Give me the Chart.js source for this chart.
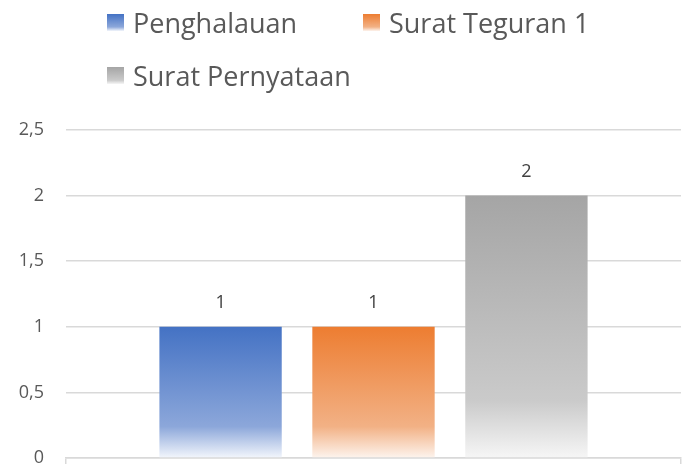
<!DOCTYPE html>
<html>
<head>
<meta charset="utf-8">
<script src="https://cdn.jsdelivr.net/npm/chart.js@4.4.1/dist/chart.umd.min.js"></script>
<style>
  html, body { margin: 0; padding: 0; background: #ffffff; }
  #wrap { position: relative; width: 683px; height: 468px; overflow: hidden; }
  #chartbox { position: absolute; left: 0; top: 0; width: 683px; height: 468px; }
  #legend {
    position: absolute; left: 107px; top: 0;
    display: grid; grid-template-columns: 256px auto; grid-auto-rows: 45px; row-gap: 8px;
    font-family: 'Open Sans', sans-serif; font-size: 27px; color: #595959;
  }
  .item { display: flex; align-items: center; white-space: nowrap; }
  .box { width: 17px; height: 17px; margin-right: 9px; flex: none; }
</style>
</head>
<body>
<div id="wrap">
  <div id="chartbox"><canvas id="chart"></canvas></div>
  <div id="legend"></div>
</div>
<script>
// ---- data ----
const categories = [''];
const seriesNames = ['Penghalauan', 'Surat Teguran 1', 'Surat Pernyataan'];
const penghalauan = [1];
const suratTeguran1 = [1];
const suratPernyataan = [2];
const yTickLabels = ['0', '0,5', '1', '1,5', '2', '2,5'];

// ---- styles ----
const gradientStops = [
  [[0, '#4472C4'], [0.76, '#8CA7DA'], [1, '#F3F6FC']],
  [[0, '#ED7D31'], [0.76, '#F2B185'], [1, '#FDF4EE']],
  [[0, '#A5A5A5'], [0.78, '#CACACA'], [1, '#F6F6F6']]
];

function barGradient(stops) {
  return (ctx) => {
    const chart = ctx.chart;
    const { chartArea, scales } = chart;
    if (!chartArea || ctx.type !== 'data' || !scales.y) return stops[0][1];
    const v = ctx.parsed ? ctx.parsed.y : ctx.raw;
    const top = scales.y.getPixelForValue(v);
    const bottom = scales.y.getPixelForValue(0);
    const g = chart.ctx.createLinearGradient(0, top, 0, bottom);
    stops.forEach(([o, c]) => g.addColorStop(o, c));
    return g;
  };
}

Chart.defaults.font.family = "'Open Sans', sans-serif";
Chart.defaults.color = '#595959';

const valueLabels = {
  id: 'valueLabels',
  afterDatasetsDraw(chart) {
    const c = chart.ctx;
    c.save();
    c.font = "18px 'Open Sans', sans-serif";
    c.fillStyle = '#404040';
    c.textAlign = 'center';
    c.textBaseline = 'alphabetic';
    chart.data.datasets.forEach((ds, i) => {
      const meta = chart.getDatasetMeta(i);
      meta.data.forEach((el, j) => {
        c.fillText(String(ds.data[j]).replace('.', ','), el.x, el.y - 19);
      });
    });
    c.restore();
  }
};

const seriesData = [penghalauan, suratTeguran1, suratPernyataan];

const chart = new Chart(document.getElementById('chart'), {
  type: 'bar',
  data: {
    labels: categories,
    datasets: seriesNames.map((name, i) => ({
      label: name,
      data: seriesData[i],
      backgroundColor: barGradient(gradientStops[i]),
      borderWidth: 0,
      categoryPercentage: 0.746,
      barPercentage: 0.80
    }))
  },
  options: {
    responsive: true,
    maintainAspectRatio: false,
    animation: false,
    devicePixelRatio: 1,
    layout: { padding: { top: 130, bottom: 4, left: 0, right: 2 } },
    plugins: {
      legend: { display: false },
      tooltip: { enabled: false }
    },
    scales: {
      x: {
        offset: true,
        afterFit(scale) { scale.height = 6; },
        grid: { display: true, drawOnChartArea: false, drawTicks: true, tickLength: 6, offset: true, color: '#D9D9D9', lineWidth: 1.5 },
        border: { display: true, color: '#D9D9D9', width: 1.5 },
        ticks: { display: false }
      },
      y: {
        min: 0, max: 2.5,
        afterFit(scale) { scale.width = 66; scale.paddingTop = 0; scale.paddingBottom = 0; },
        ticks: {
          stepSize: 0.5,
          padding: 22,
          color: '#595959',
          font: { size: 18 },
          callback: (value, index) => yTickLabels[index]
        },
        grid: { color: '#D9D9D9', lineWidth: 1.5, drawTicks: false },
        border: { display: false }
      }
    }
  },
  plugins: [valueLabels]
});

// HTML legend built from the chart's datasets
const legendEl = document.getElementById('legend');
chart.data.datasets.forEach((ds, i) => {
  const item = document.createElement('div');
  item.className = 'item';
  const box = document.createElement('span');
  box.className = 'box';
  const st = gradientStops[i];
  box.style.background = 'linear-gradient(to bottom, ' + st.map(([o, c]) => c + ' ' + (o * 100) + '%').join(', ') + ')';
  const txt = document.createElement('span');
  txt.textContent = ds.label;
  item.appendChild(box);
  item.appendChild(txt);
  legendEl.appendChild(item);
});
</script>
</body>
</html>
